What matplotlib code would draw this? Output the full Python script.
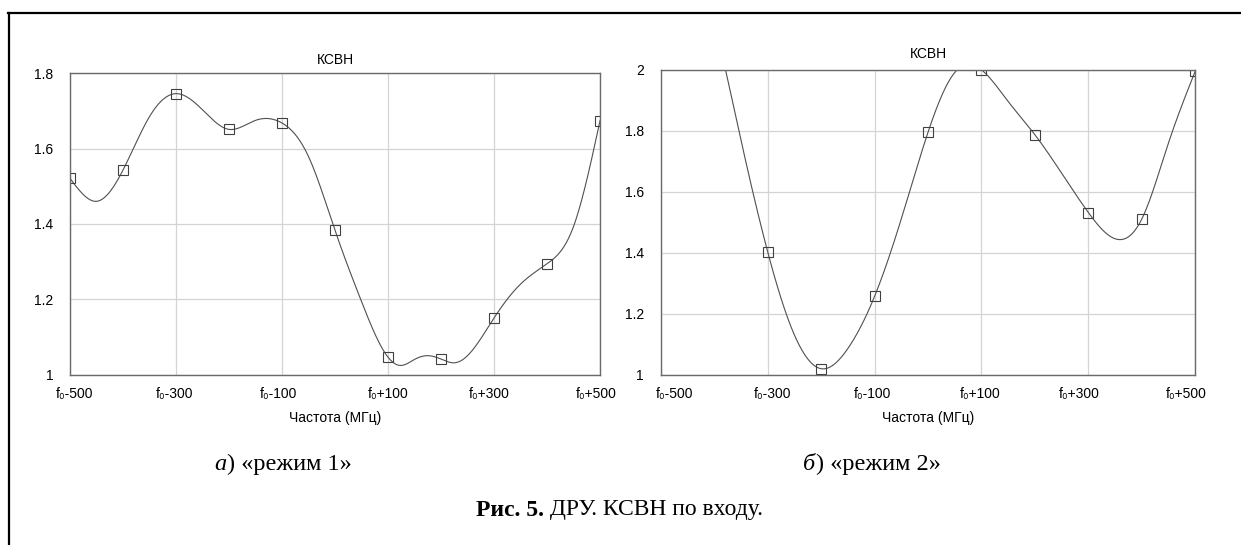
import numpy as np
import matplotlib
matplotlib.use('Agg')
import matplotlib.pyplot as plt
from matplotlib.lines import Line2D
from matplotlib.ticker import FuncFormatter
from matplotlib.transforms import ScaledTranslation

freq_1 = [-500, -450, -400, -350, -300, -250, -200, -150, -100, -50, 0, 50,
          100, 125, 150, 175, 200, 225, 250, 300, 350, 400, 450, 500]
vswr_1 = [1.521, 1.460, 1.543, 1.685, 1.746, 1.703, 1.651, 1.675, 1.668, 1.579, 1.383, 1.194,
          1.046, 1.024, 1.040, 1.050, 1.041, 1.031, 1.050, 1.150, 1.240, 1.294, 1.393, 1.674]

# режим 2: точки левее -380 МГц лежат выше 2 (за пределами графика)
freq_2 = [-500, -450, -400, -350, -300, -250, -200, -150, -100, -50, 0, 50,
          100, 150, 200, 250, 300, 350, 400, 450, 500]
vswr_2 = [2.90, 2.50, 2.16, 1.770, 1.403, 1.130, 1.019, 1.085, 1.256, 1.510, 1.794, 1.990,
          1.999, 1.895, 1.786, 1.660, 1.531, 1.445, 1.510, 1.760, 1.995]

marker_step = 100
tick_pos = [-500, -300, -100, 100, 300, 500]
tick_labels = ['f\u2080-500', 'f\u2080-300', 'f\u2080-100', 'f\u2080+100', 'f\u2080+300', 'f\u2080+500']

sans = ['Liberation Sans', 'DejaVu Sans']
serif = ['Liberation Serif', 'DejaVu Serif']


def spline(x, y, n=800):
    # natural cubic spline для сглаженной линии
    x = np.asarray(x, float)
    y = np.asarray(y, float)
    h = np.diff(x)
    m = len(x)
    A = np.zeros((m, m))
    r = np.zeros(m)
    A[0, 0] = A[-1, -1] = 1
    for i in range(1, m - 1):
        A[i, i - 1] = h[i - 1]
        A[i, i] = 2 * (h[i - 1] + h[i])
        A[i, i + 1] = h[i]
        r[i] = 6 * ((y[i + 1] - y[i]) / h[i] - (y[i] - y[i - 1]) / h[i - 1])
    M = np.linalg.solve(A, r)
    xs = np.linspace(x[0], x[-1], n)
    k = np.clip(np.searchsorted(x, xs) - 1, 0, m - 2)
    hk = h[k]
    a = x[k + 1] - xs
    b = xs - x[k]
    ys = (M[k] * a ** 3 + M[k + 1] * b ** 3) / (6 * hk) \
        + (y[k] / hk - M[k] * hk / 6) * a + (y[k + 1] / hk - M[k + 1] * hk / 6) * b
    return xs, ys


def panel(ax, x, y, ymax, title_pad, label_shift):
    xs, ys = spline(x, y)
    ax.plot(xs, ys, color='#505050', lw=0.8)
    mx = [f for f in x if f % marker_step == 0]
    my = [v for f, v in zip(x, y) if f % marker_step == 0]
    ax.plot(mx, my, ls='none', marker='s', ms=6.8, mfc='none', mec='#404040', mew=0.8)
    ax.set_xlim(-500, 500)
    ax.set_ylim(1, ymax)
    ax.set_xticks(tick_pos)
    ax.set_xticklabels(tick_labels)
    ax.set_yticks(np.arange(1, ymax + 0.01, 0.2))
    ax.yaxis.set_major_formatter(FuncFormatter(lambda v, p: f'{v:g}'))
    ax.grid(True, color='#d4d4d4', lw=0.9)
    ax.set_axisbelow(True)
    ax.tick_params(length=0, labelsize=10)
    ax.tick_params(axis='y', pad=12)
    ax.tick_params(axis='x', pad=9)
    for lab in ax.get_yticklabels():
        lab.set_family(sans)
    for lab, dx in zip(ax.get_xticklabels(), label_shift):
        lab.set_family(sans)
        lab.set_transform(lab.get_transform() + ScaledTranslation(dx / 100, 0, fig.dpi_scale_trans))
    for s in ax.spines.values():
        s.set_color('#6a6a6a')
        s.set_linewidth(1)
    ax.set_title('КСВН', fontsize=10, family=sans, pad=title_pad)
    ax.set_xlabel('Частота (МГц)', fontsize=10, family=sans, labelpad=7)


fig = plt.figure(figsize=(12.41, 5.45), dpi=100)
ax1 = fig.add_axes([70 / 1241, 1 - 374.5 / 545, 530 / 1241, 301.2 / 545])
ax2 = fig.add_axes([660.7 / 1241, 1 - 374.5 / 545, 534.6 / 1241, 305 / 545])
panel(ax1, freq_1, vswr_1, 1.8, 6.5, [5, -1, -4, 0, -5, -4])
panel(ax2, freq_2, vswr_2, 2.0, 8, [14, 5, -2, -1, -9, -9.5])

# рамка
fig.add_artist(Line2D([8 / 1241, 1], [1 - 12.7 / 545] * 2, color='black', lw=1.6))
fig.add_artist(Line2D([9 / 1241] * 2, [0, 1 - 12.7 / 545], color='black', lw=1.6))


def caption(parts, cx, cy, size):
    # parts: список (текст, стиль, жирность); группа центрируется по cx
    texts = [fig.text(0, 1 - cy / 545, t, fontsize=size, family=serif, style=st, weight=w,
                      ha='left', va='center') for t, st, w in parts]
    r = fig.canvas.get_renderer()
    widths = [t.get_window_extent(r).width for t in texts]
    x = cx - sum(widths) / 2
    for t, w in zip(texts, widths):
        t.set_x(x / 1241)
        x += w


caption([('а', 'italic', 'normal'), (') «режим 1»', 'normal', 'normal')], 283, 464, 17.5)
caption([('б', 'italic', 'normal'), (') «режим 2»', 'normal', 'normal')], 872, 464, 17.5)
caption([('Рис. 5.', 'normal', 'bold'), (' ДРУ. КСВН по входу.', 'normal', 'normal')], 620, 510, 17)

fig.savefig('out.png', dpi=100)
